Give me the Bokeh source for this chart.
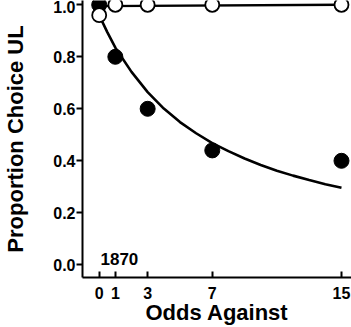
from bokeh.plotting import figure
from bokeh.models import FixedTicker, NumeralTickFormatter, Range1d
from bokeh.core.properties import value
from bokeh.embed import file_html
from bokeh.resources import INLINE

# data
odds = [0, 1, 3, 7, 15]
filled_prop = [1.0, 0.8, 0.6, 0.44, 0.40]
open_prop = [0.96, 1.0, 1.0, 1.0, 1.0]
curve_x = [0, 0.5, 1, 2, 3, 4, 5, 6, 7, 8, 9, 10, 11, 12, 13, 14, 15]
curve_y = [0.96, 0.895, 0.835, 0.742, 0.664, 0.601, 0.549, 0.506, 0.468,
           0.437, 0.409, 0.384, 0.362, 0.343, 0.326, 0.310, 0.296]
flat_x = [0, 15]
flat_y = [0.995, 1.0]
x_ticks = [0, 1, 3, 7, 15]
y_ticks = [0.0, 0.2, 0.4, 0.6, 0.8, 1.0]
session_label = "1870"

FONT = "Liberation Sans"

p = figure(width=351, height=327, output_backend="svg", toolbar_location=None,
           x_range=Range1d(-1.034, 15.62), y_range=Range1d(-0.0488, 1.0165),
           min_border_left=82, min_border_right=0, min_border_top=0,
           min_border_bottom=50)
p.styles = {"margin-top": "0px", "margin-left": "0px"}
p.outline_line_color = None
p.xgrid.grid_line_color = None
p.ygrid.grid_line_color = None
p.background_fill_color = "white"
p.border_fill_color = "white"

xa = p.xaxis[0]
xa.ticker = FixedTicker(ticks=x_ticks)
xa.major_tick_in = 6
xa.major_tick_out = 0
xa.minor_tick_line_color = None
xa.axis_line_width = 2
xa.major_tick_line_width = 2
xa.major_label_text_font = FONT
xa.major_label_text_font_style = "bold"
xa.major_label_text_font_size = "16px"
xa.major_label_text_color = "black"
xa.major_label_standoff = 9
xa.axis_label = "Odds Against"
xa.axis_label_text_font = FONT
xa.axis_label_text_font_style = "bold"
xa.axis_label_text_font_size = "22px"
xa.axis_label_text_color = "black"
xa.axis_label_standoff = -2

ya = p.yaxis[0]
ya.ticker = FixedTicker(ticks=y_ticks)
ya.formatter = NumeralTickFormatter(format="0.0")
ya.major_tick_in = 0
ya.major_tick_out = 6
ya.minor_tick_line_color = None
ya.axis_line_width = 2
ya.major_tick_line_width = 2
ya.major_label_text_font = FONT
ya.major_label_text_font_style = "bold"
ya.major_label_text_font_size = "16px"
ya.major_label_text_color = "black"
ya.major_label_standoff = 1
ya.axis_label = "Proportion Choice UL"
ya.axis_label_text_font = FONT
ya.axis_label_text_font_style = "bold"
ya.axis_label_text_font_size = "22px"
ya.axis_label_text_color = "black"
ya.axis_label_standoff = 22

p.line(curve_x, curve_y, line_color="black", line_width=2.6)
p.line(flat_x, flat_y, line_color="black", line_width=2.4)
p.scatter(odds, filled_prop, size=15, fill_color="black", line_color="black")
p.scatter(odds, open_prop, size=14, fill_color="white", line_color="black",
          line_width=1.8)
p.text(x=[0.08], y=[0.024], text=[session_label], text_font=value(FONT),
       text_font_style="bold", text_font_size="17px", text_color="black",
       text_align="left", text_baseline="alphabetic")

open("out.html", "w").write(file_html(p, INLINE))
